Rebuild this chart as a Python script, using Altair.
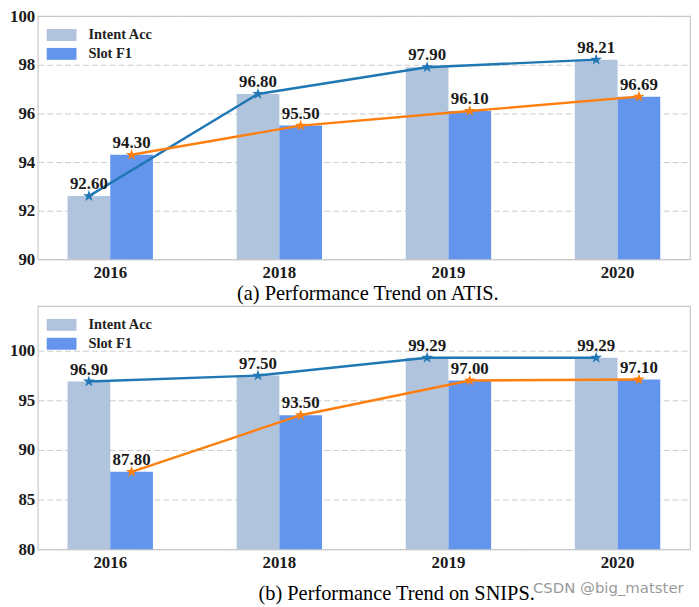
import altair as alt
import pandas as pd

years = ["2016", "2018", "2019", "2020"]
series = ["Intent Acc", "Slot F1"]
atis_intent = [92.60, 96.80, 97.90, 98.21]
atis_slot = [94.30, 95.50, 96.10, 96.69]
snips_intent = [96.90, 97.50, 99.29, 99.29]
snips_slot = [87.80, 93.50, 97.00, 97.10]
atis_ticks = [90, 92, 94, 96, 98, 100]
snips_ticks = [80, 85, 90, 95, 100]
bar_colors = ["#b0c4de", "#6495ed"]
line_colors = ["#1f77b4", "#ff7f0e"]

STAR = ("M0,-1L0.225,-0.309L0.951,-0.309L0.363,0.118L0.588,0.809L0,0.382"
        "L-0.588,0.809L-0.363,0.118L-0.951,-0.309L-0.225,-0.309Z")
RECT = "M-1.5,-0.6H1.5V0.6H-1.5Z"
SERIF = "Liberation Serif"


def frame(intent, slot):
    rows = []
    for yr, a, b in zip(years, intent, slot):
        rows.append({"year": yr, "series": series[0], "value": a})
        rows.append({"year": yr, "series": series[1], "value": b})
    return pd.DataFrame(rows)


def panel(df, domain, ticks, caption, title_x, title_pad):
    x = alt.X("year:N", sort=years,
              scale=alt.Scale(paddingInner=0.495, paddingOuter=0.176),
              axis=alt.Axis(title=caption, labelAngle=0, labelFont=SERIF,
                            labelFontWeight="bold", labelFontSize=17,
                            labelColor="#1a1a1a", labelPadding=5,
                            titleFont=SERIF, titleFontWeight="normal",
                            titleFontSize=20.5, titleColor="#000000",
                            titlePadding=title_pad, titleX=title_x,
                            ticks=False, domain=False, grid=False))
    xo = alt.XOffset("series:N", sort=series,
                     scale=alt.Scale(paddingInner=0, paddingOuter=0))
    y = alt.Y("value:Q",
              scale=alt.Scale(domain=domain, nice=False, zero=False),
              axis=alt.Axis(values=ticks, title=None, labelFont=SERIF,
                            labelFontWeight="bold", labelFontSize=17,
                            labelColor="#1a1a1a", labelPadding=3,
                            ticks=False, domain=False, grid=True,
                            gridColor="#cccccc", gridDash=[6, 3],
                            gridWidth=1))
    base = alt.Chart(df)
    bars = base.mark_bar(clip=True).encode(
        x=x, xOffset=xo, y=y,
        fill=alt.Fill("series:N",
                      scale=alt.Scale(domain=series, range=bar_colors),
                      legend=alt.Legend(title=None, orient="none",
                                        legendX=14, legendY=9,
                                        symbolType=RECT, symbolSize=400,
                                        symbolStrokeWidth=0,
                                        symbolOpacity=1,
                                        labelFont=SERIF,
                                        labelFontWeight="bold",
                                        labelFontSize=14.5,
                                        labelColor="#222222",
                                        labelOffset=17, rowPadding=2)),
    )
    lines = base.mark_line(strokeWidth=2.4).encode(
        x=x, xOffset=xo, y=y,
        color=alt.Color("series:N",
                        scale=alt.Scale(domain=series, range=line_colors),
                        legend=None),
    )
    stars = base.mark_point(shape=STAR, filled=True, size=150, opacity=1).encode(
        x=x, xOffset=xo, y=y,
        color=alt.Color("series:N",
                        scale=alt.Scale(domain=series, range=line_colors),
                        legend=None),
    )
    labels = base.mark_text(baseline="bottom", dy=-3, font=SERIF,
                            fontWeight="bold", fontSize=17,
                            color="#1a1a1a").encode(
        x=x, xOffset=xo, y=y,
        text=alt.Text("value:Q", format=".2f"),
    )
    return alt.layer(bars, lines, stars, labels).properties(width=657, height=245)


top = panel(frame(atis_intent, atis_slot), [90, 100], atis_ticks,
            "(a) Performance Trend on ATIS.", 332, 3)
bottom = panel(frame(snips_intent, snips_slot), [80, 104.5], snips_ticks,
               "(b) Performance Trend on SNIPS.", 361, 14)

chart = alt.vconcat(top, bottom, spacing=0).resolve_scale(
    fill="independent", color="independent"
).resolve_legend(fill="independent").properties(
    padding={"left": 0, "top": -4, "right": 0, "bottom": 0},
    title=alt.TitleParams("CSDN @big_matster", orient="bottom", anchor="end",
                          font="DejaVu Sans", fontSize=15,
                          fontWeight="normal", color="#9a9a9a", offset=-24,
                          dx=-7),
).configure_view(stroke="#c8c8c8", strokeWidth=1.2)

chart.save("out.html", embed_options={"renderer": "svg", "actions": False})
